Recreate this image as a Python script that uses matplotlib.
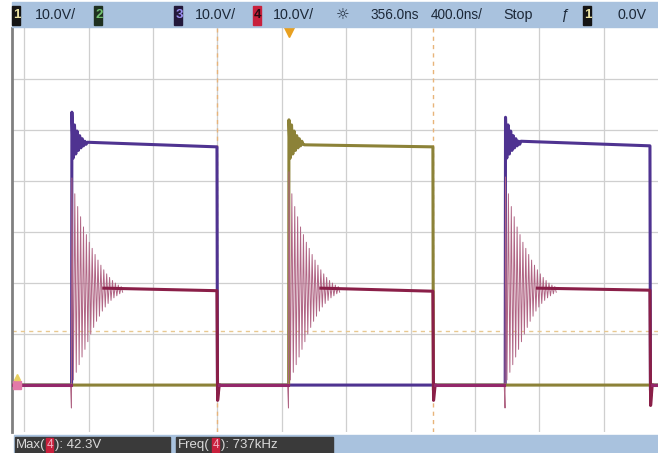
import numpy as np
import matplotlib.pyplot as plt
from matplotlib import font_manager
from matplotlib.patches import Rectangle

# scope settings: 400 ns/div, 10 V/div, delay 356 ns, grounds 3 div below centre
t_rise = [-1348, 0, 1345]     # ns
t_fall = [-447, 894, 2242]

# channel 4 (switch node): extremes of the ringing after each rising edge, V
ch4_peak = [40.6, 41.8, 40.8]
ch4_ring = [1.0, 37.5, 2.5, 35.0, 4.0, 33.0, 5.5, 31.0, 7.0, 29.5, 8.5, 28.0,
            10.0, 26.8, 11.3, 25.6, 12.5, 24.5, 13.5, 23.5, 14.5, 22.6, 15.3,
            21.8, 16.0, 21.1, 16.6, 20.5, 17.1, 20.0, 17.5, 19.6, 17.9, 19.3, 18.2]
ch4_flat = [(19.0, 18.5), (19.0, 18.4), (19.0, 18.6)]
ch4_dip = [-4.5, -4.5, -4.5]
ch4_fall_dip = [-3.0, -3.0, -4.0]

# channels 3 and 1 (gate drives), high on alternate cycles
ch3_cycles = [0, 2]
ch1_cycles = [1]
gate_peak = [53.5, 52.0, 52.5]
gate_ring = [44.5, 51.0, 45.3, 49.8, 46.0, 48.9, 46.5, 48.3, 46.9, 47.8, 47.2]
gate_flat = [(47.6, 46.7), (47.1, 46.7), (47.8, 46.9)]

cursor_t = [-447, 894]
cursor_v = 10.6

t_left, t_right = -1720, 2292
v_bot, v_top = -9.2, 70
W, H = 658, 453

purple = '#4f3391'
olive = '#8c8238'
maroon = '#8a1f48'
ring_col = '#b06584'


def gate_trace(cycles):
    t, v = [t_left], [0.0]
    for i in cycles:
        r, f = t_rise[i], t_fall[i]
        t += [r - 2, r]
        v += [0.0, gate_peak[i]]
        for k, val in enumerate(gate_ring):
            t.append(r + 8 * (k + 1))
            v.append(val)
        t += [r + 8 * (len(gate_ring) + 1), f, f + 3, f + 10]
        v += [gate_flat[i][0], gate_flat[i][1], -1.0, 0.0]
    t.append(t_right)
    v.append(0.0)
    return t, v


fig = plt.figure(figsize=(W / 100, H / 100), dpi=100)
ax = fig.add_axes([12 / W, (H - 432) / H, (W - 12) / W, 404 / H])
ax.set_xlim(t_left, t_right)
ax.set_ylim(v_bot, v_top)
ax.set_xticks([])
ax.set_yticks([])
for s in ['top', 'right', 'bottom']:
    ax.spines[s].set_visible(False)
ax.spines['left'].set_color('#808080')
ax.spines['left'].set_linewidth(2)

# graticule
for k in range(-5, 5):
    ax.axvline(356 + 400 * k, color='#cfcfcf', lw=0.9, zorder=0)
for k in range(0, 7):
    ax.axhline(10 * k, color='#cfcfcf', lw=0.9, zorder=0)
for tc in cursor_t:
    ax.axvline(tc, color='#e8b47a', lw=1, ls=(0, (3, 3)), zorder=1)
ax.axhline(cursor_v, color='#e8c890', lw=1, ls=(0, (3, 3)), zorder=1)

# gate traces
t3, v3 = gate_trace(ch3_cycles)
ax.plot(t3, v3, color=purple, lw=2.2, zorder=3)
t1, v1 = gate_trace(ch1_cycles)
ax.plot(t1, v1, color=olive, lw=2.2, zorder=4)

# switch node
for i in range(3):
    r, f = t_rise[i], t_fall[i]
    rt = [r - 8, r - 3, r] + [r + 9 * (k + 1) for k in range(len(ch4_ring))]
    rv = [0.0, ch4_dip[i], ch4_peak[i]] + ch4_ring
    ax.plot(rt, rv, color=ring_col, lw=0.7, zorder=5)
    pt = [r + 9 * 22, f, f + 4, f + 14]
    pv = [ch4_flat[i][0], ch4_flat[i][1], ch4_fall_dip[i], 0.0]
    ax.plot(pt, pv, color=maroon, lw=2.2, zorder=6)
low_t = [t_left, t_rise[0] - 8, np.nan, t_fall[0] + 14, t_rise[1] - 8, np.nan,
         t_fall[1] + 14, t_rise[2] - 8, np.nan, t_fall[2] + 14, t_right]
low_v = [0.0, 0.0, np.nan, 0.0, 0.0, np.nan, 0.0, 0.0, np.nan, 0.0, 0.0]
ax.plot(low_t, low_v, color='#93286a', lw=2.2, zorder=6)

# markers: trigger position and ground
ax.plot([0], [69.2], marker='v', ms=7, color='#e8a020', clip_on=False, zorder=8)
ax.plot([-1689], [0], marker='s', ms=6, color='#e27aa8', clip_on=False, zorder=8)
ax.plot([-1689], [1.6], marker='^', ms=4, color='#e8d060', clip_on=False, zorder=8)

# fonts
names = {f.name for f in font_manager.fontManager.ttflist}
if 'Liberation Sans Narrow' in names:
    fam, fs = 'Liberation Sans Narrow', 12
else:
    fam, fs = 'Liberation Sans', 10.3


def px(x, y):
    return x / W, 1 - y / H


def box(x0, y0, x1, y1, color):
    fig.patches.append(Rectangle(px(x0, y1), (x1 - x0) / W, (y1 - y0) / H,
                                 transform=fig.transFigure, color=color, zorder=1))


def label(x, y, s, color='#1c2838', size=None, **kw):
    fig.text(*px(x, y), s, color=color, family=[fam, 'DejaVu Sans'],
             fontsize=size or fs, va='center', ha='left', **kw)


# top status bar
box(12, 2, W, 27, '#a9c2de')
chan_box = [(12, '1', '#151515', '#e8e0a0'), (94, '2', '#1e3020', '#70c070'),
            (174, '3', '#22183a', '#9a8ef0'), (253, '4', '#c8203c', '#2a0a10'),
            (583, '1', '#151515', '#e8e0a0')]
for x0, s, bg, fg in chan_box:
    box(x0, 6, x0 + 8, 25, bg)
    label(x0 + 1.2, 15.5, s, color=fg, size=9.5, fontweight='bold')
label(35, 15, '10.0V/')
label(195, 15, '10.0V/')
label(273, 15, '10.0V/')
fig.text(*px(343, 15), '\u263c', color='#1c2838', fontsize=11, ha='center', va='center')
label(370, 15, '356.0ns', size=9.8)
label(431, 15, '400.0ns/', size=9.8)
label(503, 15, 'Stop')
label(560, 15, '\u0192', fontstyle='italic')
label(618, 15, '0.0V')

# bottom measurement bar
box(14, 435, W, H, '#a9c2de')
box(15, 437, 170, H, '#3a3a3a')
box(176, 437, 333, H, '#3a3a3a')
box(46, 438, 53, 452, '#c8203c')
box(212, 438, 219, 452, '#c8203c')
bsz = 9.5
label(16, 445, 'Max(', color='#dadada', size=bsz)
label(46.3, 445, '4', color='#f0b0c0', size=8.5)
label(55, 445, '): 42.3V', color='#dadada', size=bsz)
label(178, 445, 'Freq(', color='#dadada', size=bsz)
label(212.3, 445, '4', color='#f0b0c0', size=8.5)
label(221, 445, '): 737kHz', color='#dadada', size=bsz)

fig.savefig('out.png', dpi=100)
